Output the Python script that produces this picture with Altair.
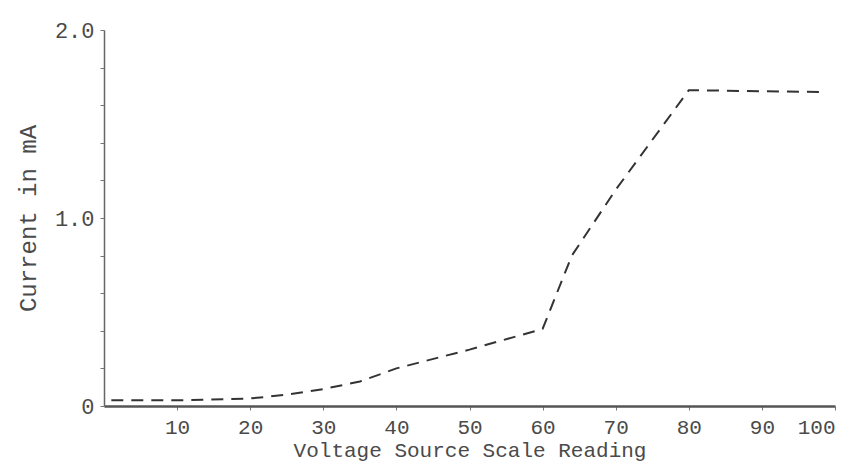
import altair as alt
import pandas as pd

voltage = [1, 10, 20, 25, 30, 35, 40, 50, 60, 64, 70, 80, 98]
current = [0.03, 0.03, 0.04, 0.06, 0.09, 0.13, 0.20, 0.30, 0.41, 0.80, 1.15, 1.68, 1.67]

x_ticks = [10, 20, 30, 40, 50, 60, 70, 80, 90, 100]
y_ticks = [0.0, 0.2, 0.4, 0.6, 0.8, 1.0, 1.2, 1.4, 1.6, 1.8, 2.0]

df = pd.DataFrame({"v": voltage, "i": current})

FONT = "Liberation Mono"
TXT = "#4a4a4a"

chart = alt.Chart(df).mark_line(
    color="#333333", strokeWidth=2, strokeDash=[12, 8]
).encode(
    x=alt.X("v:Q", scale=alt.Scale(domain=[0, 100], nice=False),
            axis=alt.Axis(values=x_ticks, title="Voltage Source Scale Reading",
                          grid=False, domainWidth=2.5, domainColor="#555555",
                          tickColor="#777777", tickSize=4, labelPadding=6,
                          labelFont=FONT, labelFontSize=21, labelColor=TXT,
                          titleFont=FONT, titleFontSize=21, titleFontWeight="normal",
                          titleColor=TXT, titlePadding=2)),
    y=alt.Y("i:Q", scale=alt.Scale(domain=[0, 2], nice=False),
            axis=alt.Axis(values=y_ticks, title="Current in mA", grid=False,
                          labelExpr="abs(datum.value) < 0.001 ? '0' : (abs(datum.value - 1) < 0.001 ? '1.0' : (abs(datum.value - 2) < 0.001 ? '2.0' : ''))",
                          domainWidth=1.5, domainColor="#666666",
                          tickColor="#777777", tickSize=4, labelPadding=6,
                          labelFont=FONT, labelFontSize=22, labelColor=TXT,
                          titleFont=FONT, titleFontSize=24, titleFontWeight="normal",
                          titleColor=TXT, titlePadding=14)),
).properties(
    width=731, height=376,
    background="white",
    autosize=alt.AutoSizeParams(type="none"),
    padding={"left": 104, "top": 30, "right": 28, "bottom": 65},
).configure_view(stroke=None)

chart.save("out.html", embed_options={"renderer": "svg", "actions": False})
